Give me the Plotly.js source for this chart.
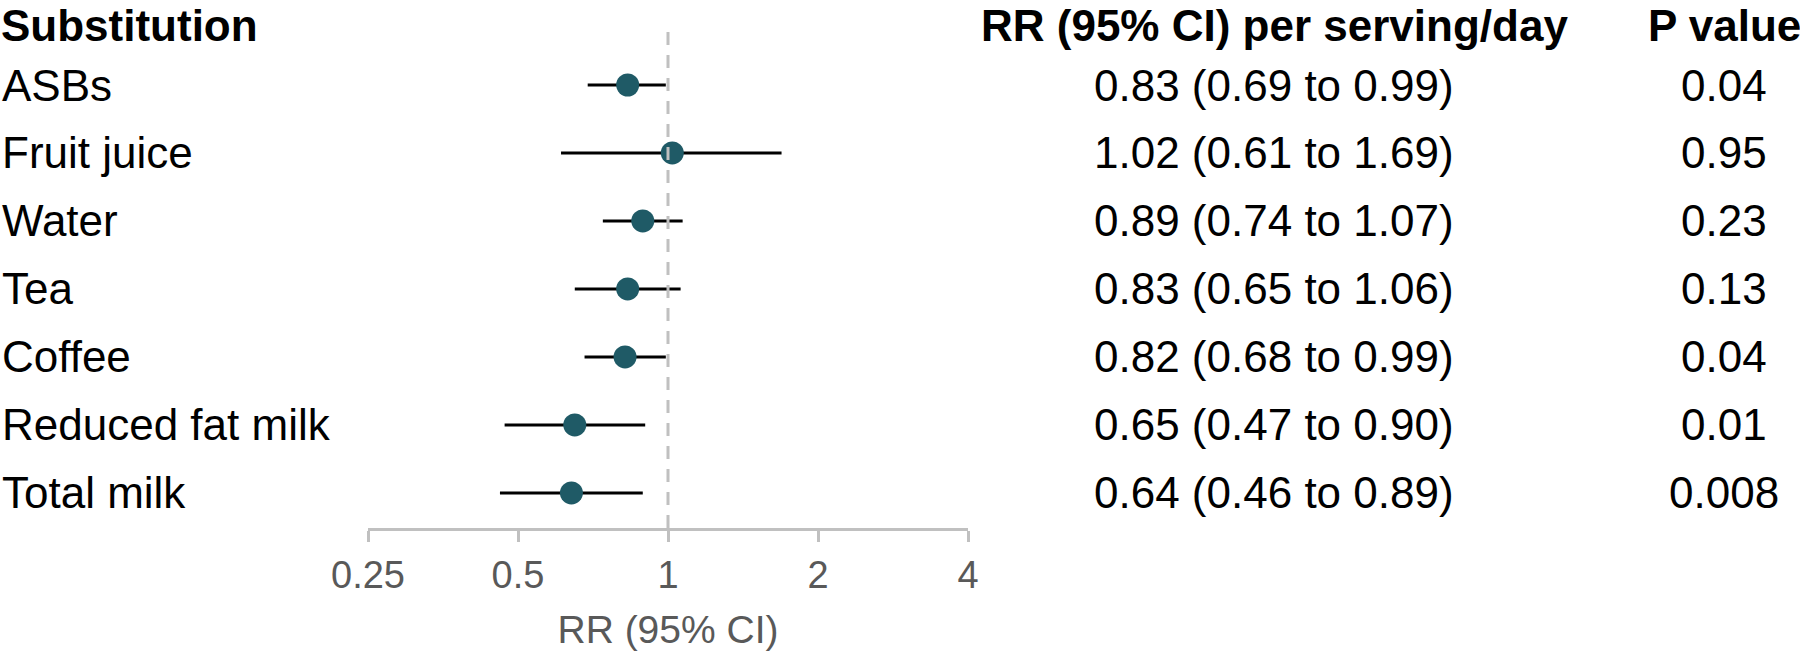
<!DOCTYPE html>
<html>
<head>
<meta charset="utf-8">
<script src="https://cdn.plot.ly/plotly-3.0.1.min.js"></script>
<style>html,body{margin:0;padding:0;background:#fff;}#chart{width:1800px;height:656px;}</style>
</head>
<body>
<div id="chart"></div>
<script>
// ---- data ----
const labels = ['ASBs', 'Fruit juice', 'Water', 'Tea', 'Coffee', 'Reduced fat milk', 'Total milk'];
const rr     = [0.83, 1.02, 0.89, 0.83, 0.82, 0.65, 0.64];
const ciLow  = [0.69, 0.61, 0.74, 0.65, 0.68, 0.47, 0.46];
const ciHigh = [0.99, 1.69, 1.07, 1.06, 0.99, 0.90, 0.89];
const pValues = ['0.04', '0.95', '0.23', '0.13', '0.04', '0.01', '0.008'];
const tickVals = [0.25, 0.5, 1, 2, 4];
const tickText = ['0.25', '0.5', '1', '2', '4'];
const headers = ['Substitution', 'RR (95% CI) per serving/day', 'P value'];

// ---- layout helpers ----
const W = 1800, H = 656;
const rowIdx = labels.map((_, i) => i + 1);
const FONT = '"Liberation Sans", Arial, sans-serif';

const trace = {
  type: 'scatter',
  mode: 'markers',
  x: rr,
  y: rowIdx,
  marker: { size: 23, color: '#1f5a66', line: { width: 0 } },
  error_x: {
    type: 'data',
    symmetric: false,
    array: rr.map((v, i) => ciHigh[i] - v),
    arrayminus: rr.map((v, i) => v - ciLow[i]),
    color: '#000000',
    thickness: 3.2,
    width: 0
  },
  hoverinfo: 'skip',
  showlegend: false
};

const ann = [];
const colX = { label: 0, rr: 1274 / W, p: 1724 / W };
const headFont = { family: FONT, size: 44, color: '#000' };
ann.push({ xref: 'paper', yref: 'paper', x: colX.label, y: 1, xanchor: 'left', yanchor: 'top',
  text: '<b>' + headers[0] + '</b>', showarrow: false, font: headFont, borderpad: 0 });
ann.push({ xref: 'paper', yref: 'paper', x: colX.rr, y: 1, xanchor: 'center', yanchor: 'top',
  text: '<b>' + headers[1] + '</b>', showarrow: false, font: headFont, borderpad: 0 });
ann.push({ xref: 'paper', yref: 'paper', x: colX.p, y: 1, xanchor: 'center', yanchor: 'top',
  text: '<b>' + headers[2] + '</b>', showarrow: false, font: headFont, borderpad: 0 });

labels.forEach((lab, i) => {
  const y = rowIdx[i];
  ann.push({ xref: 'paper', yref: 'y', x: colX.label, y: y, xanchor: 'left', yanchor: 'middle',
    text: lab, showarrow: false, font: { family: FONT, size: 44, color: '#000' } });
  const rrTxt = rr[i].toFixed(2) + ' (' + ciLow[i].toFixed(2) + ' to ' + ciHigh[i].toFixed(2) + ')';
  ann.push({ xref: 'paper', yref: 'y', x: colX.rr, y: y, xanchor: 'center', yanchor: 'middle',
    text: rrTxt, showarrow: false, font: { family: FONT, size: 44, color: '#000' } });
  ann.push({ xref: 'paper', yref: 'y', x: colX.p, y: y, xanchor: 'center', yanchor: 'middle',
    text: pValues[i], showarrow: false, font: { family: FONT, size: 44, color: '#000' } });
});

const layout = {
  width: W,
  height: H,
  margin: { l: 0, r: 0, t: 0, b: 128, pad: 0 },
  paper_bgcolor: '#ffffff',
  plot_bgcolor: '#ffffff',
  showlegend: false,
  xaxis: {
    type: 'log',
    domain: [368 / W, 968 / W],
    range: [Math.log10(0.25), Math.log10(4)],
    tickvals: tickVals,
    ticktext: tickText,
    ticks: 'outside',
    ticklen: 11,
    tickwidth: 3,
    tickcolor: '#c0c0c0',
    showline: true,
    linecolor: '#c0c0c0',
    linewidth: 3,
    showgrid: false,
    zeroline: false,
    automargin: false,
    tickfont: { family: FONT, size: 38, color: '#595959' },
    title: { text: 'RR (95% CI)', font: { family: FONT, size: 39, color: '#595959' }, standoff: 22 },
    fixedrange: true
  },
  yaxis: {
    range: [7.515, -0.25],
    visible: false,
    showgrid: false,
    zeroline: false,
    automargin: false,
    fixedrange: true
  },
  shapes: [{
    type: 'line', xref: 'x', yref: 'y', layer: 'above',
    x0: 1, x1: 1, y0: 0.22, y1: 7.515,
    line: { color: '#c0c0c0', width: 3, dash: '13px,10px' }
  }],
  annotations: ann
};

Plotly.newPlot('chart', [trace], layout, { staticPlot: true, displayModeBar: false });
</script>
</body>
</html>
